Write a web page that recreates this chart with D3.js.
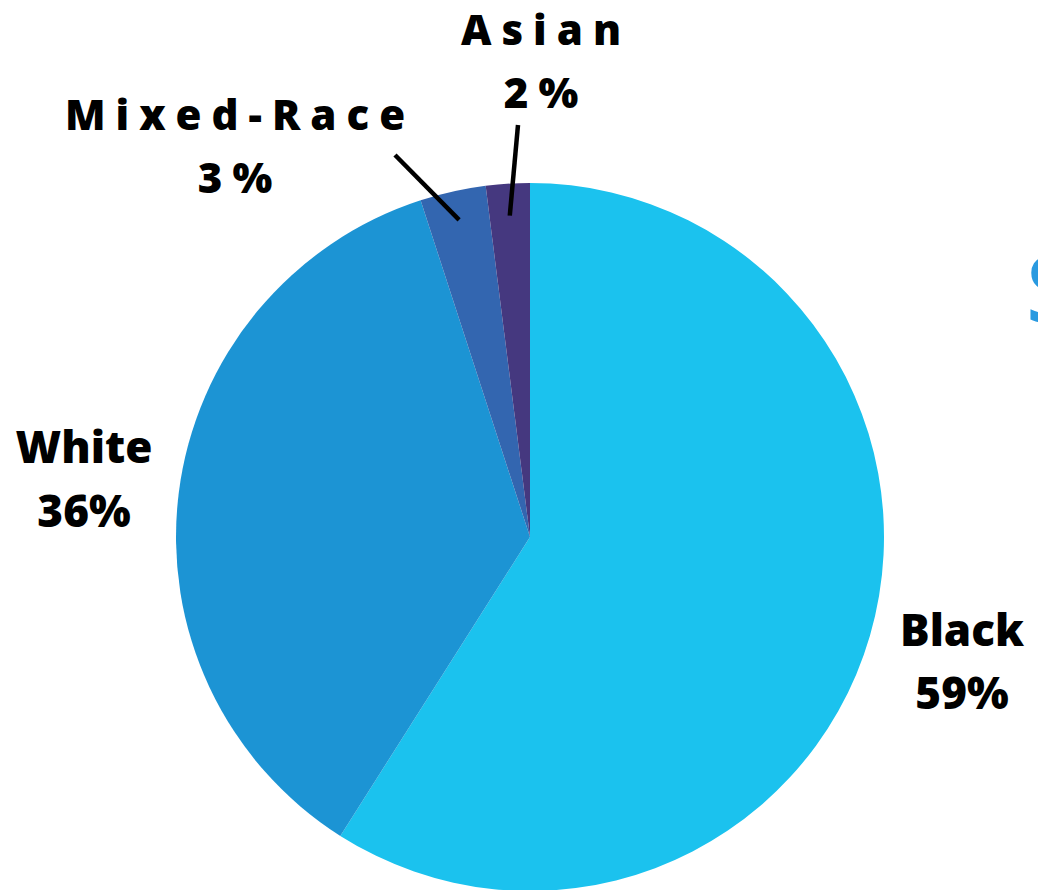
<!DOCTYPE html>
<html>
<head>
<meta charset="utf-8">
<script src="https://cdn.jsdelivr.net/npm/d3@7"></script>
<style>
  html, body { margin: 0; padding: 0; background: #ffffff; overflow: hidden; }
  svg { display: block; }
  text { font-family: "Open Sans", "DejaVu Sans", sans-serif; font-weight: 800; fill: #000; }
</style>
</head>
<body>
<svg id="chart" width="1038" height="890"></svg>
<script>
// Ethnic breakdown, in percent
const categories = ["Black", "White", "Mixed-Race", "Asian"];
const values = [59, 36, 3, 2];
const labels = ["59%", "36%", "3%", "2%"];
const colors = ["#1BC2EE", "#1C94D4", "#3366B0", "#45387F"];

const svg = d3.select("#chart");
const cx = 530, cy = 537, radius = 354;

const pie = d3.pie().sort(null).value(d => d.value);
const arc = d3.arc().innerRadius(0).outerRadius(radius);
const data = categories.map((c, i) => ({ name: c, value: values[i], label: labels[i], color: colors[i] }));
const arcs = pie(data);

const g = svg.append("g").attr("transform", `translate(${cx},${cy})`);
g.selectAll("path")
  .data(arcs)
  .join("path")
  .attr("d", arc)
  .attr("fill", d => d.data.color);

// Label placement per category
const labelPos = {
  "Black":      { x: 962, y: 646, dy: 63, spacing: 0,  size: 44 },
  "White":      { x: 84,  y: 463, dy: 64, spacing: 0,  size: 44 },
  "Mixed-Race": { x: 235, y: 130, dy: 63, spacing: 10, size: 42 },
  "Asian":      { x: 541, y: 45,  dy: 63, spacing: 10, size: 42 }
};

arcs.forEach(a => {
  const p = labelPos[a.data.name];
  const t = svg.append("text")
    .attr("text-anchor", "middle")
    .style("font-size", p.size + "px")
    .style("letter-spacing", p.spacing + "px");
  t.append("tspan").attr("x", p.x + p.spacing / 2).attr("y", p.y).text(a.data.name);
  t.append("tspan").attr("x", p.x + p.spacing / 2).attr("y", p.y + p.dy).text(a.data.label);
});

// Leader lines for the two thin slices
const leaders = [
  { name: "Mixed-Race", from: [395, 155], r: 325 },
  { name: "Asian", from: [518, 125], r: 322 }
];
leaders.forEach(l => {
  const a = arcs.find(d => d.data.name === l.name);
  const [ex, ey] = d3.arc().innerRadius(l.r).outerRadius(l.r).centroid(a);
  svg.append("line")
    .attr("x1", l.from[0]).attr("y1", l.from[1])
    .attr("x2", cx + ex).attr("y2", cy + ey)
    .attr("stroke", "#000")
    .attr("stroke-width", 4.5);
});

// Start of the title running off the right edge
svg.append("text")
  .attr("x", 1026).attr("y", 322)
  .style("font-size", "92px")
  .style("font-weight", 600)
  .style("fill", "#2A9AE0")
  .text("S");
</script>
</body>
</html>
